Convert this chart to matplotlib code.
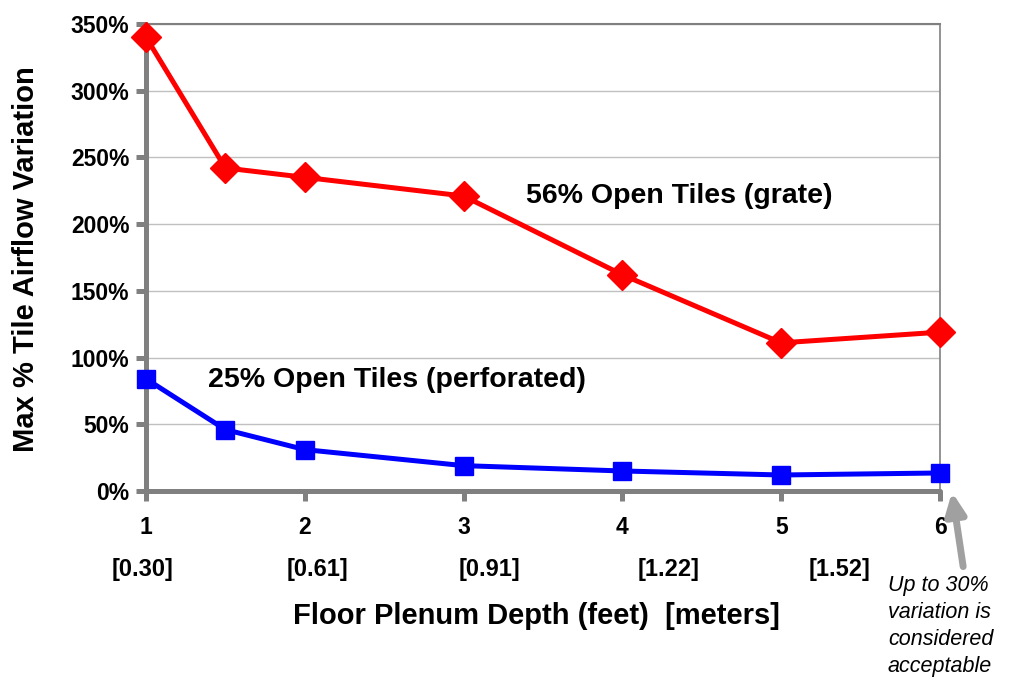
import matplotlib.pyplot as plt
from matplotlib.ticker import FuncFormatter
from matplotlib.transforms import blended_transform_factory

plt.rcParams['font.family'] = ['Liberation Sans', 'DejaVu Sans']

depth_ft = [1, 1.5, 2, 3, 4, 5, 6]
grate_pct = [340, 242, 235, 221, 162, 111, 119]
perforated_pct = [84, 46, 31, 19, 15, 12, 13.5]

x_ticks = [1, 2, 3, 4, 5, 6]
meter_labels = ['[0.30]', '[0.61]', '[0.91]', '[1.22]', '[1.52]']
meter_pos = [0.98, 2.08, 3.16, 4.29, 5.37]

grey = '#808080'

fig = plt.figure(figsize=(10.16, 6.81), dpi=100)
ax = fig.add_axes([0.1437, 0.279, 0.7815, 0.686])

ax.plot(depth_ft, grate_pct, color='#ff0000', lw=3.6, marker='D', ms=15,
        clip_on=False, zorder=3)
ax.plot(depth_ft, perforated_pct, color='#0000ff', lw=3.6, marker='s', ms=13,
        clip_on=False, zorder=3)

ax.set_xlim(1, 6)
ax.set_ylim(0, 350)
ax.set_xticks(x_ticks)
ax.set_yticks(range(0, 351, 50))
ax.yaxis.set_major_formatter(FuncFormatter(lambda v, p: f'{v:.0f}%'))
ax.grid(axis='y', color='#c0c0c0', lw=1)
ax.set_axisbelow(True)

for side in ['left', 'bottom']:
    ax.spines[side].set_color(grey)
    ax.spines[side].set_linewidth(3.6)
    ax.spines[side].set_capstyle('round')
ax.spines['right'].set_color(grey)
ax.spines['right'].set_linewidth(1.2)
ax.spines['top'].set_color(grey)
ax.spines['top'].set_linewidth(1.5)

ax.tick_params(axis='both', direction='out', length=7, width=3.6, color=grey,
               labelsize=16.5)
ax.tick_params(axis='x', pad=11)
ax.tick_params(axis='y', pad=5)
for lab in ax.get_xticklabels() + ax.get_yticklabels():
    lab.set_fontweight('bold')

trans = blended_transform_factory(ax.transData, fig.transFigure)
for pos, lab in zip(meter_pos, meter_labels):
    ax.text(pos, 0.163, lab, transform=trans, ha='center', va='center',
            fontsize=17, fontweight='bold')

fig.text(0.528, 0.095, 'Floor Plenum Depth (feet)  [meters]', ha='center',
         va='center', fontsize=21, fontweight='bold')
fig.text(0.026, 0.62, 'Max % Tile Airflow Variation', rotation=90,
         ha='center', va='center', fontsize=21, fontweight='bold')

ax.text(3.39, 221, '56% Open Tiles (grate)', ha='left', va='center',
        fontsize=20.5, fontweight='bold')
ax.text(1.39, 83, '25% Open Tiles (perforated)', ha='left', va='center',
        fontsize=20.5, fontweight='bold')

ax.annotate('', xy=(0.937, 0.2775), xytext=(0.948, 0.168),
            xycoords='figure fraction', textcoords='figure fraction',
            arrowprops=dict(arrowstyle='-|>,head_length=1.3,head_width=0.6',
                            color='#a0a0a0', lw=5, shrinkA=0, shrinkB=0))
fig.text(0.874, 0.156, 'Up to 30%\nvariation is\nconsidered\nacceptable',
         ha='left', va='top', fontsize=15.5, style='italic', linespacing=1.38)

fig.savefig('out.png', dpi=100)
